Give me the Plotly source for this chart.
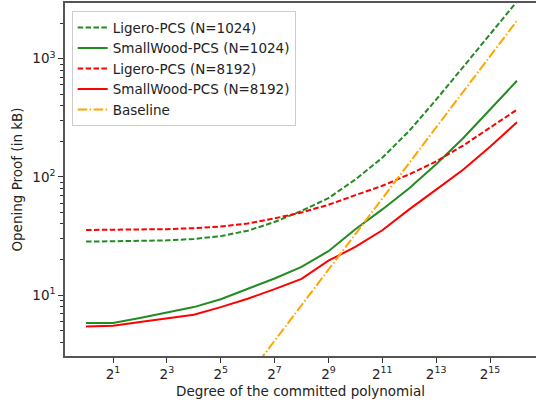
import plotly.graph_objects as go

# x = degree of the committed polynomial (2^k, k = 0..16)
degree = [1, 2, 4, 8, 16, 32, 64, 128, 256, 512, 1024, 2048, 4096, 8192, 16384, 32768, 65536]

ligero_1024 = [28.3, 28.4, 28.6, 29.0, 29.8, 31.5, 35.0, 41.5, 51.5, 66.0, 95.0, 145.0, 245.0, 450.0, 850.0, 1600.0, 3050.0]
smallwood_1024 = [5.8, 5.8, 6.4, 7.1, 7.9, 9.2, 11.2, 13.8, 17.3, 23.5, 36.0, 53.0, 80.0, 128.0, 212.0, 372.0, 650.0]
ligero_8192 = [35.5, 35.6, 35.8, 36.1, 36.8, 38.0, 40.3, 44.5, 50.0, 58.0, 70.0, 84.0, 105.0, 135.0, 184.0, 262.0, 370.0]
smallwood_8192 = [5.4, 5.5, 5.9, 6.3, 6.8, 7.9, 9.3, 11.2, 13.7, 19.5, 25.5, 35.3, 53.0, 78.0, 115.0, 180.0, 290.0]
baseline = [0.032, 0.064, 0.128, 0.256, 0.512, 1.024, 2.048, 4.096, 8.192, 16.384, 32.768,
            65.536, 131.072, 262.144, 524.288, 1048.576, 2097.152]

x_tick_vals = [2, 8, 32, 128, 512, 2048, 8192, 32768]
x_tick_text = ["2<sup>1</sup>", "2<sup>3</sup>", "2<sup>5</sup>", "2<sup>7</sup>",
               "2<sup>9</sup>", "2<sup>11</sup>", "2<sup>13</sup>", "2<sup>15</sup>"]
y_tick_vals = [10, 100, 1000]
y_tick_text = ["10<sup>1</sup>", "10<sup>2</sup>", "10<sup>3</sup>"]
y_minor_vals = [m * 10 ** e for e in range(0, 4) for m in range(2, 10)]

GREEN = "#228B22"
RED = "#FF0000"
ORANGE = "#FFA500"
DASH = "5.5px,2.4px"
DASHDOT = "9.6px,2.4px,1.5px,2.4px"

series = [
    ("Ligero-PCS (N=1024)", ligero_1024, GREEN, DASH),
    ("SmallWood-PCS (N=1024)", smallwood_1024, GREEN, "solid"),
    ("Ligero-PCS (N=8192)", ligero_8192, RED, DASH),
    ("SmallWood-PCS (N=8192)", smallwood_8192, RED, "solid"),
    ("Baseline", baseline, ORANGE, DASHDOT),
]

fig = go.Figure()
for name, vals, color, dash in series:
    fig.add_trace(go.Scatter(x=degree, y=vals, mode="lines", name=name,
                             line=dict(color=color, width=2, dash=dash)))

FONT = "DejaVu Sans"
FS = 13.5
fig.update_layout(
    width=536, height=402,
    margin=dict(l=65, r=0, t=3, b=46),
    paper_bgcolor="white", plot_bgcolor="white",
    font=dict(family=FONT, size=FS, color="#222"),
    showlegend=True,
    legend=dict(x=0.0142, y=0.977, xanchor="left", yanchor="top",
                bgcolor="rgba(255,255,255,0.85)", bordercolor="#cccccc", borderwidth=1,
                font=dict(family=FONT, size=FS, color="#222"),
                itemwidth=30, tracegroupgap=0),
    xaxis=dict(type="log", range=[-0.2355, 5.0294],
               tickmode="array", tickvals=x_tick_vals, ticktext=x_tick_text,
               ticks="outside", ticklen=5, tickwidth=1, tickcolor="#333",
               showline=True, linecolor="#555", linewidth=1.5, mirror=True,
               showgrid=False, zeroline=False,
               title=dict(text="Degree of the committed polynomial", standoff=6,
                          font=dict(family=FONT, size=FS)),
               tickfont=dict(family=FONT, size=FS)),
    yaxis=dict(type="log", range=[0.4837, 3.4714],
               tickmode="array", tickvals=y_tick_vals, ticktext=y_tick_text,
               ticks="outside", ticklen=5, tickwidth=1, tickcolor="#333",
               minor=dict(tickmode="array", tickvals=y_minor_vals, ticks="outside",
                          ticklen=3, tickwidth=0.8, tickcolor="#333", showgrid=False),
               showline=True, linecolor="#555", linewidth=1.5, mirror=False,
               showgrid=False, zeroline=False,
               title=dict(text="Opening Proof (in kB)", standoff=7,
                          font=dict(family=FONT, size=FS)),
               tickfont=dict(family=FONT, size=FS)),
)

fig.write_html("out.html", config={"displayModeBar": False},
               post_script="document.body.style.margin='0';document.body.style.padding='0';")
